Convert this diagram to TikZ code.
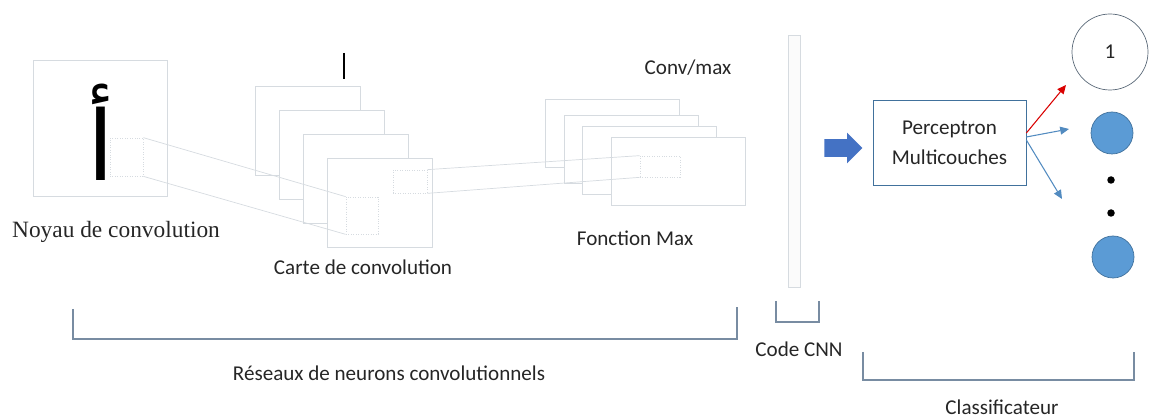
\documentclass[tikz,border=0pt]{standalone}
\usepackage{fontspec}
\setmainfont{Carlito}
\newfontfamily\timesfont{Liberation Serif}
\newfontfamily\arabicfont[Script=Arabic]{DejaVu Sans}
\TeXXeTstate=1
\usetikzlibrary{positioning, shapes.arrows, arrows.meta}
\definecolor{faint}{RGB}{214,219,224}
\definecolor{brace}{RGB}{120,140,162}
\definecolor{office}{RGB}{65,113,156}
\definecolor{lightblue}{RGB}{91,155,213}
\definecolor{arrowblue}{RGB}{68,114,196}
\definecolor{ringgray}{RGB}{90,105,120}
\tikzset{
txt/.style={ % all the captions
text=black!85, inner sep=0pt,
font=\fontsize{12}{17}\selectfont},
fmap/.style={ % feature maps, filled white so each one hides the one behind
draw=faint, fill=white, inner sep=0pt},
cmap/.style={fmap, minimum width=2.1cm, minimum height=1.78cm},
pmap/.style={fmap, minimum width=2.68cm, minimum height=1.36cm},
window/.style={draw=faint, densely dotted, inner sep=0pt},
link/.style={draw=faint},
brace/.style={draw=brace, line width=0.7pt},
neuron/.style={circle, fill=lightblue, draw=office, minimum size=0.84cm, inner sep=0pt},
dot/.style={circle, fill=black, minimum size=0.15cm, inner sep=0pt},
outarrow/.style={ % arrows leaving the perceptron
-{Triangle[length=5pt, width=4.5pt]}, line width=0.6pt}
}

\begin{document}
\begin{tikzpicture}
    \useasboundingbox (0,0) rectangle (23,-8.38);

    \node[fmap, minimum width=2.68cm, minimum height=2.72cm] (img) at (2.0,-2.56) {};
    \node[inner sep=0pt, font=\arabicfont\fontsize{55}{55}\selectfont] (letter) at (2.02,-2.64) {\beginR أ\endR};
    \node[window, minimum width=0.66cm, minimum height=0.76cm] (k0) at (2.53,-3.14) {};
    \node[txt, font=\timesfont\fontsize{13.3}{15}\selectfont] (noyau) at (2.32,-4.64) {Noyau de convolution};

    \node[cmap] (c1) at (6.15,-2.62) {};
    \node[cmap, xshift=0.48cm, yshift=-0.48cm] (c2) at (c1) {};
    \node[cmap, xshift=0.48cm, yshift=-0.48cm] (c3) at (c2) {};
    \node[cmap, xshift=0.48cm, yshift=-0.48cm] (c4) at (c3) {};
    \node[window, minimum width=0.64cm, minimum height=0.74cm] (k1) at (7.24,-4.31) {};
    \node[window, minimum width=0.68cm, minimum height=0.46cm] (k2) at (8.20,-3.63) {};
    \node[txt] (carte) at (7.26,-5.34) {Carte de convolution};
    \draw[black, line width=0.6pt] (6.88,-1.06) -- (6.88,-1.58);

    \node[pmap] (p1) at (12.24,-2.66) {};
    \node[pmap] (p2) at (12.63,-2.99) {};
    \node[pmap] (p3) at (12.99,-3.20) {};
    \node[pmap] (p4) at (13.56,-3.43) {};
    \node[window, minimum width=0.8cm, minimum height=0.42cm] (k3) at (13.2,-3.33) {};
    \node[txt] (convmax) at (13.76,-1.36) {Conv/max};
    \node[txt] (fmax) at (12.7,-4.76) {Fonction Max};

    \draw[link] (k0.north east) -- (k1.north west);
    \draw[link] (k0.south east) -- (k1.south west);
    \draw[link] (k2.north east) -- (k3.north west);
    \draw[link] (k2.south east) -- (k3.south west);

    \node[draw=faint, fill=gray!3, minimum width=0.24cm, minimum height=5.04cm, inner sep=0pt] (code) at (15.88,-3.22) {};
    \node[single arrow, fill=arrowblue, minimum height=0.76cm, inner sep=0.17cm, single arrow head extend=0.13cm] (flow) at (16.78,-2.96) {};
    \node[txt, draw=office, minimum width=3.06cm, minimum height=1.7cm, align=center] (mlp) at (18.99,-2.85) {Perceptron\\Multicouches};

    \node[txt, circle, draw=ringgray, minimum size=1.52cm] (cls1) at (22.2,-1.04) {1};
    \node[neuron] (n2) at (22.24,-2.66) {};
    \node[dot] (d1) at (22.22,-3.6) {};
    \node[dot] (d2) at (22.22,-4.26) {};
    \node[neuron] (n3) at (22.26,-5.14) {};

    \coordinate (t1) at (21.32,-1.70);
    \coordinate (t2) at (21.38,-2.58);
    \coordinate (t3) at (21.24,-3.98);
    \draw[outarrow, red!85!black] ([yshift=0.19cm]mlp.east) -- (t1);
    \draw[outarrow, lightblue!90!black] ([yshift=0.11cm]mlp.east) -- (t2);
    \draw[outarrow, lightblue!90!black] ([yshift=0.05cm]mlp.east) -- (t3);

    \draw[brace] (1.46,-6.18) |- (14.74,-6.78) -- (14.74,-6.14);
    \draw[brace] (15.52,-6.02) |- (16.38,-6.44) -- (16.38,-6.02);
    \draw[brace] (17.26,-7.04) |- (22.68,-7.60) -- (22.68,-7.04);
    \node[txt] (reseau) at (7.78,-7.46) {Réseaux de neurons convolutionnels};
    \node[txt] (cnn) at (15.98,-6.98) {Code CNN};
    \node[txt] (classif) at (20.04,-8.14) {Classificateur};
\end{tikzpicture}
\end{document}
